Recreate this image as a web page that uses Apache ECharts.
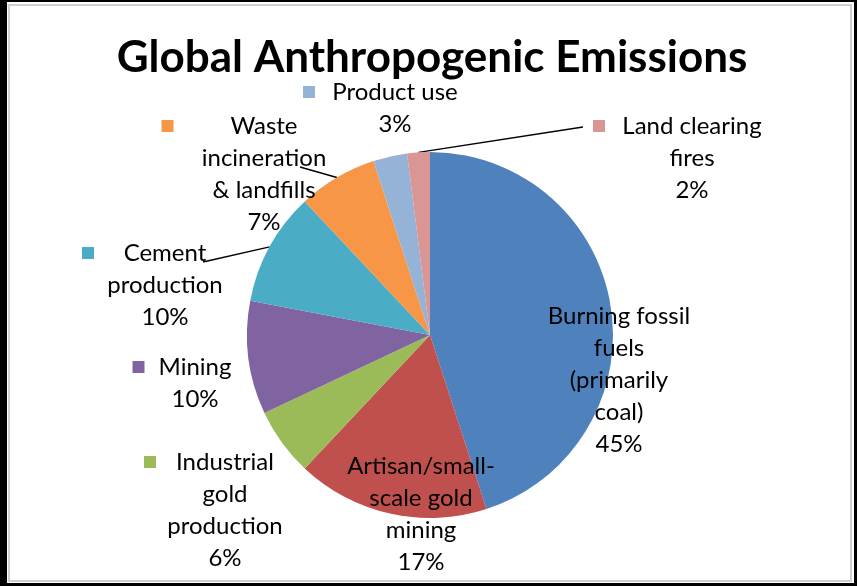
<!DOCTYPE html>
<html>
<head>
<meta charset="utf-8">
<script src="https://cdn.jsdelivr.net/npm/echarts@6/dist/echarts.min.js"></script>
<style>
html,body{margin:0;padding:0;background:#fff;}
#wrap{position:relative;width:857px;height:586px;overflow:hidden;background:#fff;}
#frame{position:absolute;left:0;top:0;width:847px;height:581px;border-style:solid;border-color:#000;border-width:2px 3px 3px 7px;}
#inner{position:absolute;left:8px;top:4px;width:840px;height:574px;border:2px solid #d0d0d0;}
#chart{position:absolute;left:0;top:0;width:857px;height:586px;}
</style>
</head>
<body>
<div id="wrap">
  <div id="frame"></div>
  <div id="inner"></div>
  <div id="chart"></div>
</div>
<script>
// ---- data ----
const TITLE = 'Global Anthropogenic Emissions';
const categories = [
  'Burning fossil fuels (primarily coal)',
  'Artisan/small-scale gold mining',
  'Industrial gold production',
  'Mining',
  'Cement production',
  'Waste incineration & landfills',
  'Product use',
  'Land clearing fires'
];
const values = [45, 17, 6, 10, 10, 7, 3, 2];
const labelLines = [
  ['Burning fossil', 'fuels', '(primarily', 'coal)'],
  ['Artisan/small-', 'scale gold', 'mining'],
  ['Industrial', 'gold', 'production'],
  ['Mining'],
  ['Cement', 'production'],
  ['Waste', 'incineration', '& landfills'],
  ['Product use'],
  ['Land clearing', 'fires']
];
const showKey = [false, false, true, true, true, true, true, true];

// ---- styles / layout ----
const colors = ['#4F81BD', '#C0504D', '#9BBB59', '#8064A2', '#4BACC6', '#F79646', '#95B3D7', '#D99694'];
const labelCenters = [[619, 380], [421, 514], [225, 510], [195, 383], [165, 285], [264, 174], [395, 108], [692, 158]];
const leaderEnds = [null, null, null, null, [203, 262], [300, 167], null, [583, 127]];
const keyGaps = [0, 0, 10, 13, 12, 27, 16, 16];
const KEY = 12;
const FONT = 'Lato';
const FONT_SIZE = 24;
const LINE_H = 32;

const ctx = document.createElement('canvas').getContext('2d');
ctx.font = FONT_SIZE + 'px ' + FONT;
function tw(s) { return Math.ceil(ctx.measureText(s).width); }

const rich = {};
const texts = [];
categories.forEach(function (c, i) {
  const lines = labelLines[i].concat([values[i] + '%']);
  const W = Math.max.apply(null, lines.map(tw)) + 2;
  rich['t' + i] = { width: W, align: 'center', fontFamily: FONT, fontSize: FONT_SIZE, lineHeight: LINE_H, color: '#000' };
  let text;
  if (showKey[i]) {
    rich['k' + i] = { width: KEY, height: KEY, backgroundColor: colors[i], align: 'center' };
    rich['g' + i] = { width: keyGaps[i], align: 'center', lineHeight: LINE_H };
    rich['s' + i] = { width: KEY + keyGaps[i], align: 'center', lineHeight: LINE_H };
    text = lines.map(function (l, j) {
      return (j === 0 ? '{k' + i + '|}{g' + i + '|}' : '{s' + i + '|}') + '{t' + i + '|' + l + '}';
    }).join('\n');
  } else {
    text = lines.map(function (l) { return '{t' + i + '|' + l + '}'; }).join('\n');
  }
  texts.push(text);
});

const chart = echarts.init(document.getElementById('chart'), null, { renderer: 'canvas' });
chart.setOption({
  animation: false,
  backgroundColor: 'transparent',
  graphic: [{
    type: 'text', x: 432, y: 58,
    style: { text: TITLE, font: 'bold 44px ' + FONT, fill: '#000', align: 'center', verticalAlign: 'middle' }
  }],
  series: [{
    type: 'pie',
    center: [430, 335],
    radius: 183,
    startAngle: 90,
    clockwise: true,
    avoidLabelOverlap: false,
    emphasis: { disabled: true },
    data: categories.map(function (n, i) {
      return { name: n, value: values[i], itemStyle: { color: colors[i] }, labelLine: { show: !!leaderEnds[i] } };
    }),
    label: {
      show: true,
      position: 'outside',
      formatter: function (p) { return texts[p.dataIndex]; },
      rich: rich,
      fontFamily: FONT, fontSize: FONT_SIZE, lineHeight: LINE_H, color: '#000'
    },
    labelLine: { show: true, length: 8, length2: 8, lineStyle: { color: '#000', width: 1.4 } },
    labelLayout: function (params) {
      const i = params.dataIndex;
      const c = labelCenters[i];
      const off = showKey[i] ? (KEY + keyGaps[i]) / 2 : 0;
      const res = { x: c[0] - off, y: c[1], align: 'center', verticalAlign: 'middle' };
      if (leaderEnds[i] && params.labelLinePoints) {
        res.labelLinePoints = [params.labelLinePoints[0], leaderEnds[i]];
      }
      return res;
    }
  }]
});
</script>
</body>
</html>
